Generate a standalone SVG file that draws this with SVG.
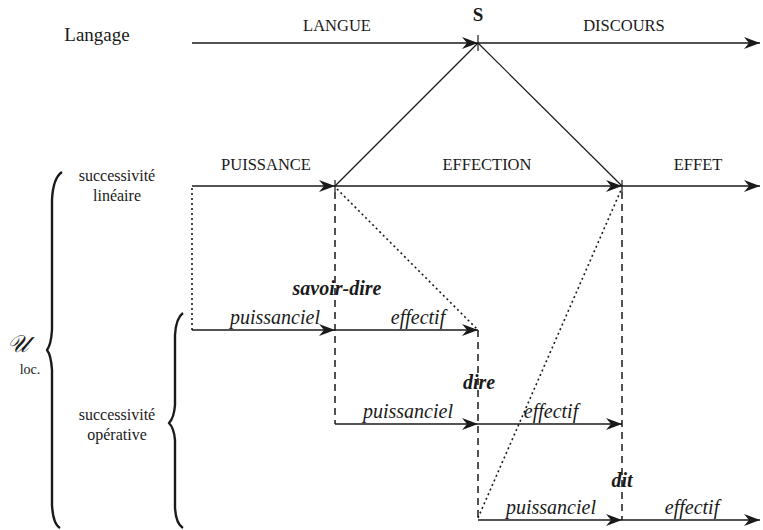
<svg xmlns="http://www.w3.org/2000/svg" width="763" height="530" viewBox="0 0 763 530">
<defs>
<marker id="ah" markerUnits="userSpaceOnUse" markerWidth="18" markerHeight="14" refX="16" refY="6" orient="auto">
<path d="M0,0 L16,6 L0,12 L5,6 Z" fill="#1a1a1a"/>
</marker>
</defs>

<g id="labels" fill="#1a1a1a" text-anchor="middle">
<text x="97" y="41" font-family="Liberation Serif" font-size="19">Langage</text>
<text x="337" y="31" font-family="Liberation Serif" font-size="16.5">LANGUE</text>
<text x="478" y="21" font-family="Liberation Serif" font-size="19" font-weight="bold">S</text>
<text x="624" y="31" font-family="Liberation Serif" font-size="16.5">DISCOURS</text>
<text x="266" y="170" font-family="Liberation Serif" font-size="16.5">PUISSANCE</text>
<text x="487" y="170" font-family="Liberation Serif" font-size="16.5">EFFECTION</text>
<text x="698" y="170" font-family="Liberation Serif" font-size="16.5">EFFET</text>
<text x="117" y="181" font-family="Liberation Serif" font-size="16">successivit&#233;</text>
<text x="117" y="201" font-family="Liberation Serif" font-size="16">lin&#233;aire</text>
<text x="117" y="420" font-family="Liberation Serif" font-size="16">successivit&#233;</text>
<text x="117" y="440" font-family="Liberation Serif" font-size="16">op&#233;rative</text>
<text x="18" y="352" font-family="Liberation Serif" font-size="24" font-style="italic">&#x1D4B0;</text>
<text x="30" y="374" font-family="Liberation Serif" font-size="14">loc.</text>
</g>

<g id="braces" stroke="#1a1a1a" stroke-width="2.4" fill="none" stroke-linejoin="round">
<path d="M62,172 Q53,178 52,200 L52,330 Q51,345 47,350 Q51,355 52,370 L52,505 Q53,524 60,528"/>
<path d="M183,313 Q176,318 175,335 L175,405 Q174,418 169,423 Q174,428 175,440 L175,508 Q176,524 183,528"/>
</g>

<g id="connectors" stroke="#1a1a1a" fill="none">
<g stroke-width="1.6" marker-end="url(#ah)">
<line x1="192" y1="43" x2="478" y2="43"/>
<line x1="478" y1="43" x2="760" y2="43"/>
<line x1="192" y1="186" x2="335" y2="186"/>
<line x1="335" y1="186" x2="622" y2="186"/>
<line x1="622" y1="186" x2="760" y2="186"/>
<line x1="192" y1="330" x2="335" y2="330"/>
<line x1="335" y1="330" x2="478" y2="330"/>
<line x1="335" y1="424" x2="478" y2="424"/>
<line x1="478" y1="424" x2="622" y2="424"/>
<line x1="478" y1="520" x2="622" y2="520"/>
<line x1="622" y1="520" x2="760" y2="520"/>
</g>
<g stroke-width="1.2">
<line x1="478" y1="35" x2="478" y2="51"/>
<line x1="335" y1="186" x2="478" y2="43"/>
<line x1="478" y1="43" x2="622" y2="186"/>
<line x1="335" y1="180" x2="335" y2="192"/>
<line x1="622" y1="180" x2="622" y2="192"/>
</g>
<g stroke-width="1.6" stroke-dasharray="2,3">
<line x1="192" y1="188" x2="192" y2="330"/>
<line x1="337" y1="189" x2="478" y2="330"/>
<line x1="478" y1="518" x2="621" y2="190"/>
</g>
<g stroke-width="1.5" stroke-dasharray="7,5">
<line x1="335" y1="192" x2="335" y2="424"/>
<line x1="478" y1="330" x2="478" y2="520"/>
<line x1="622" y1="192" x2="622" y2="520"/>
</g>
</g>

<g id="row-labels" fill="#1a1a1a" text-anchor="middle">
<text x="337" y="295" font-family="Liberation Serif" font-size="20" font-style="italic" font-weight="bold">savoir-dire</text>
<text x="275" y="324" font-family="Liberation Serif" font-size="20" font-style="italic">puissanciel</text>
<text x="418" y="324" font-family="Liberation Serif" font-size="20" font-style="italic">effectif</text>
<text x="479" y="389" font-family="Liberation Serif" font-size="20" font-style="italic" font-weight="bold">dire</text>
<text x="408" y="418" font-family="Liberation Serif" font-size="20" font-style="italic">puissanciel</text>
<text x="551" y="418" font-family="Liberation Serif" font-size="20" font-style="italic">effectif</text>
<text x="622" y="487" font-family="Liberation Serif" font-size="20" font-style="italic" font-weight="bold">dit</text>
<text x="551" y="514" font-family="Liberation Serif" font-size="20" font-style="italic">puissanciel</text>
<text x="692" y="514" font-family="Liberation Serif" font-size="20" font-style="italic">effectif</text>
</g>
</svg>
